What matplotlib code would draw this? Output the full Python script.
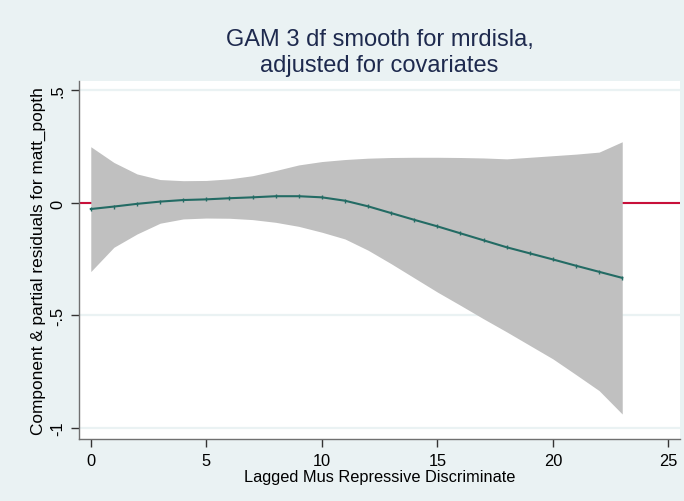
import numpy as np
import matplotlib
matplotlib.use("Agg")
import matplotlib.pyplot as plt

# GAM fitted smooth and pointwise CI
x_vals = [0, 1, 2, 3, 4, 5, 6, 7, 8, 9, 10, 11,
          12, 13, 14, 15, 16, 17, 18, 19, 20, 21, 22, 23]
smooth = [-0.027, -0.016, -0.004, 0.006, 0.013, 0.016, 0.021, 0.025,
          0.030, 0.030, 0.025, 0.010, -0.015, -0.045, -0.075, -0.104,
          -0.135, -0.166, -0.197, -0.224, -0.251, -0.279, -0.306, -0.333]
ci_upper = [0.250, 0.180, 0.129, 0.104, 0.099, 0.100, 0.107, 0.121,
            0.144, 0.169, 0.184, 0.193, 0.199, 0.202, 0.203, 0.203,
            0.202, 0.200, 0.196, 0.203, 0.210, 0.217, 0.226, 0.272]
ci_lower = [-0.305, -0.197, -0.138, -0.090, -0.071, -0.067, -0.068, -0.074,
            -0.086, -0.104, -0.130, -0.160, -0.210, -0.270, -0.333, -0.396,
            -0.455, -0.515, -0.573, -0.633, -0.693, -0.763, -0.834, -0.938]

x_ticks = [0, 5, 10, 15, 20, 25]
y_ticks = [-1, -0.5, 0, 0.5]
y_tick_labels = ["-1", "-.5", "0", ".5"]

title = "GAM 3 df smooth for mrdisla,\nadjusted for covariates"
x_label = "Lagged Mus Repressive Discriminate"
y_label = "Component & partial residuals for matt_popth"

BG = "#EAF2F3"
plt.rcParams["font.family"] = ["Liberation Sans", "DejaVu Sans"]

fig = plt.figure(figsize=(6.84, 5.02), dpi=100, facecolor=BG)
ax = fig.add_axes([79 / 684, 62 / 502, 601 / 684, 358 / 502])
ax.set_facecolor("white")

# stata-like horizontal grid
for yv in y_ticks:
    ax.axhline(yv, color=BG, lw=1.6, zorder=0.5)
ax.axhline(0, color="#C8103A", lw=1.5, zorder=1)

ax.fill_between(x_vals, ci_lower, ci_upper, color="#C0C0C0", lw=0, zorder=2)
ax.plot(x_vals, smooth, color="#236B64", lw=1.5, marker="|", ms=3.5,
        mew=1.0, zorder=3)

ax.set_xlim(-0.51, 25.5)
ax.set_ylim(-1.049, 0.542)
ax.set_xticks(x_ticks)
ax.set_yticks(y_ticks)
ax.set_yticklabels(y_tick_labels, rotation=90, va="center")

for s in ("top", "right"):
    ax.spines[s].set_visible(False)
for s in ("left", "bottom"):
    ax.spines[s].set_color("#707070")
    ax.spines[s].set_linewidth(1.0)
ax.tick_params(axis="both", length=6, width=1.0, color="#333333",
               labelsize=11.8, labelcolor="black", pad=4)

ax.set_xlabel(x_label, fontsize=11.8, labelpad=1)
ax.set_ylabel(y_label, fontsize=12.4, labelpad=3)

fig.text((79 + 680) / 2 / 684, 1 - 53 / 502, title, ha="center", va="center",
         fontsize=17, color="#1E2A4E", linespacing=1.2)

fig.savefig("out.png", dpi=100, facecolor=BG)
